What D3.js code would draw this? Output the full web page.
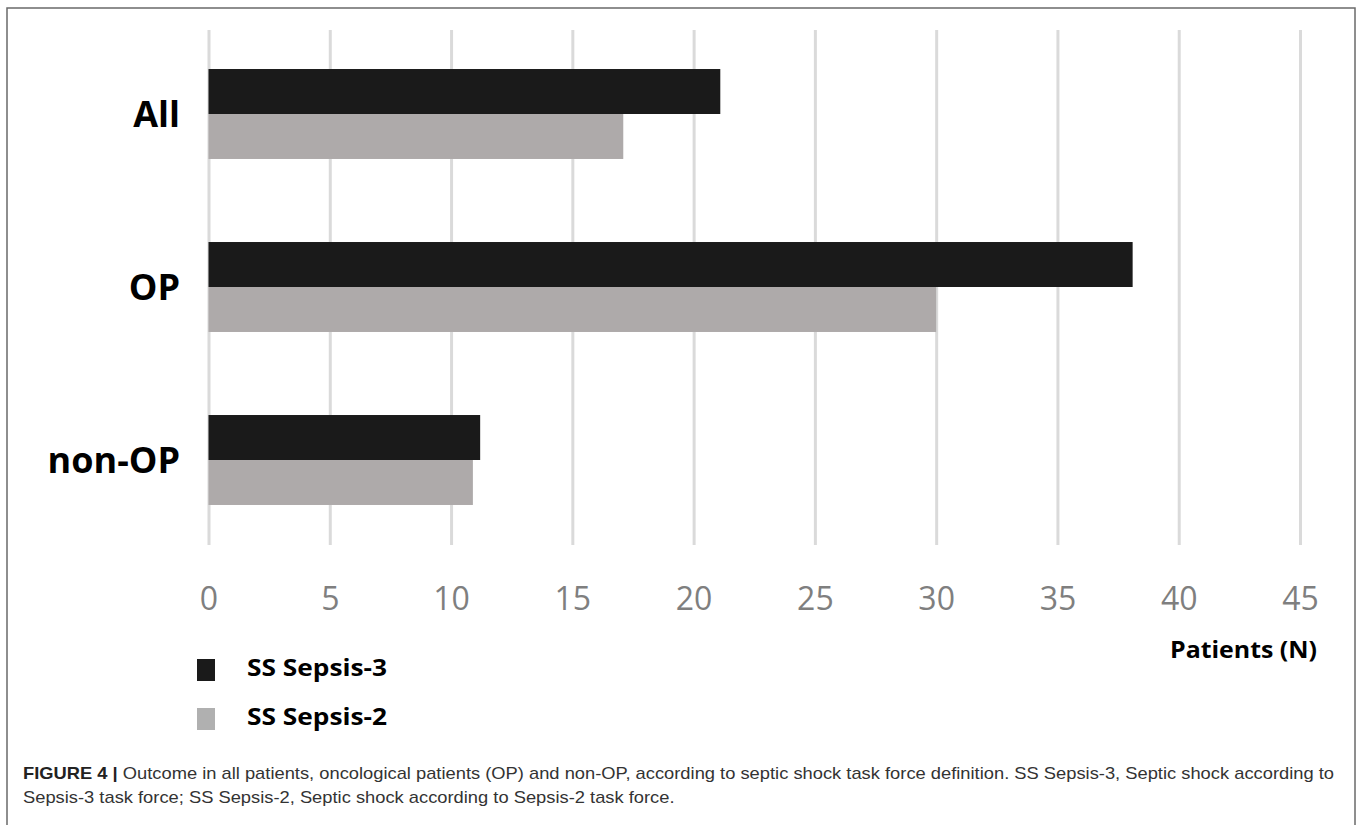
<!DOCTYPE html>
<html>
<head>
<meta charset="utf-8">
<script src="https://cdn.jsdelivr.net/npm/d3@7"></script>
<style>
  html, body { margin: 0; padding: 0; background: #fff; }
  svg { display: block; }
</style>
</head>
<body>
<svg id="fig" width="1358" height="825"></svg>
<script>
// Patients with septic shock per group and definition
const categories = ["All", "OP", "non-OP"];
const seriesNames = ["SS Sepsis-3", "SS Sepsis-2"];
const sepsis3 = [21.1, 38.1, 11.2];
const sepsis2 = [17.1, 30.0, 10.9];
const tickValues = [0, 5, 10, 15, 20, 25, 30, 35, 40, 45];
const axisTitle = "Patients (N)";
const captionBold = "FIGURE 4 |";
const captionLine1 = " Outcome in all patients, oncological patients (OP) and non-OP, according to septic shock task force definition. SS Sepsis-3, Septic shock according to";
const captionLine2 = "Sepsis-3 task force; SS Sepsis-2, Septic shock according to Sepsis-2 task force.";

const colors = ["#1a1a1a", "#aeaaaa"];
const legendColors = ["#1a1a1a", "#b0b0b0"];

const svg = d3.select("#fig");

// figure frame (bottom edge runs off the page)
svg.append("rect")
  .attr("x", 7).attr("y", 8)
  .attr("width", 1348).attr("height", 840)
  .attr("fill", "none")
  .attr("stroke", "#6a6a6a")
  .attr("stroke-width", 1.5);

const x = d3.scaleLinear().domain([0, 45]).range([208.5, 1300]);

const y = d3.scaleBand()
  .domain(categories)
  .range([27.5, 546.5])
  .paddingInner(0.48)
  .paddingOuter(0.24);

const ySub = d3.scaleBand()
  .domain(seriesNames)
  .range([0, y.bandwidth()])
  .padding(0);

// vertical gridlines
const grid = svg.append("g")
  .attr("transform", "translate(0,30)")
  .call(d3.axisBottom(x).tickValues(tickValues).tickSize(515).tickFormat(""));
grid.select(".domain").remove();
grid.selectAll(".tick line")
  .attr("stroke", "#dadada")
  .attr("stroke-width", 3);

// bars
const rows = categories.map((c, i) => ({ cat: c, vals: [sepsis3[i], sepsis2[i]] }));
const groups = svg.append("g").selectAll("g")
  .data(rows)
  .join("g")
  .attr("transform", d => `translate(0,${y(d.cat)})`);

groups.selectAll("rect")
  .data(d => d.vals.map((v, j) => ({ name: seriesNames[j], v, j })))
  .join("rect")
  .attr("x", x(0))
  .attr("y", d => ySub(d.name))
  .attr("width", d => x(d.v) - x(0))
  .attr("height", ySub.bandwidth())
  .attr("fill", d => colors[d.j]);

// category labels
svg.append("g").selectAll("text")
  .data(categories)
  .join("text")
  .attr("x", 180)
  .attr("y", d => y(d) + y.bandwidth() / 2 + 13)
  .attr("text-anchor", "end")
  .attr("font-family", "'Open Sans', sans-serif")
  .attr("font-weight", 700)
  .attr("font-size", 36)
  .attr("fill", "#000")
  .text(d => d);

// value axis labels
const xAxis = svg.append("g")
  .attr("transform", "translate(0,575)")
  .call(d3.axisBottom(x).tickValues(tickValues).tickSize(0).tickPadding(0));
xAxis.select(".domain").remove();
xAxis.selectAll(".tick text")
  .attr("dy", 0)
  .attr("y", 35)
  .attr("font-family", "'Open Sans', sans-serif")
  .attr("font-size", 32)
  .attr("fill", "#7f7f7f");

// axis title
svg.append("text")
  .attr("x", 1170).attr("y", 658)
  .attr("font-family", "'Open Sans', sans-serif")
  .attr("font-weight", 700)
  .attr("font-size", 24)
  .attr("textLength", 147)
  .attr("lengthAdjust", "spacingAndGlyphs")
  .attr("fill", "#000")
  .text(axisTitle);

// legend
const legend = svg.append("g").selectAll("g")
  .data(seriesNames)
  .join("g")
  .attr("transform", (d, i) => `translate(197,${659 + i * 49})`);
legend.append("rect")
  .attr("width", 18).attr("height", 22)
  .attr("fill", (d, i) => legendColors[i]);
legend.append("text")
  .attr("x", 50).attr("y", 17)
  .attr("font-family", "'Open Sans', sans-serif")
  .attr("font-weight", 700)
  .attr("font-size", 23)
  .attr("textLength", 140)
  .attr("lengthAdjust", "spacingAndGlyphs")
  .attr("fill", "#000")
  .text(d => d);

// caption, two lines set to the same horizontal squeeze
const cap = svg.append("g")
  .attr("font-family", "'Liberation Sans', Arial, sans-serif")
  .attr("font-size", 17)
  .attr("fill", "#333");
const t1 = cap.append("text").attr("x", 23).attr("y", 779);
t1.append("tspan").attr("font-weight", 700).attr("fill", "#222").text(captionBold);
t1.append("tspan").text(captionLine1);
const t2 = cap.append("text").attr("x", 23).attr("y", 803).text(captionLine2);

const line1Width = 1311;
const k = line1Width / t1.node().getComputedTextLength();
t1.attr("textLength", line1Width).attr("lengthAdjust", "spacingAndGlyphs");
t2.attr("textLength", t2.node().getComputedTextLength() * k).attr("lengthAdjust", "spacingAndGlyphs");
</script>
</body>
</html>
